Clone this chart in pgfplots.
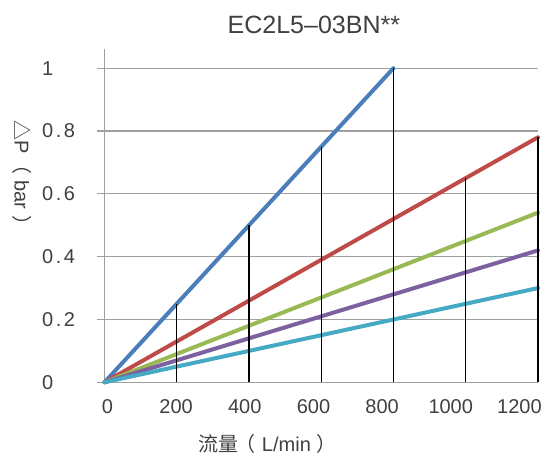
\documentclass[border=0pt]{standalone}
\usepackage{pgfplots}
\pgfplotsset{compat=1.18}
\usetikzlibrary{calc}
\usepackage{fontspec}
\setmainfont{Liberation Sans}
\newfontfamily\cjk{Noto Sans CJK SC}
\definecolor{tg}{HTML}{404040}
\definecolor{gridc}{HTML}{A0A0A0}
\definecolor{c1}{HTML}{4A7EBB}
\definecolor{c2}{HTML}{BE4B48}
\definecolor{c3}{HTML}{98B954}
\definecolor{c4}{HTML}{7D60A0}
\definecolor{c5}{HTML}{46AAC5}
\newcommand{\dt}{\kern2.5pt.\kern2.5pt}
\begin{document}
\begin{tikzpicture}
\begin{axis}[name=ax, scale only axis, width=433.5pt, height=333.3pt,
  xmin=0, xmax=1200, ymin=0, ymax=1.061, clip=false,
  axis lines=left, axis line style={-, draw=gridc, line width=1.3pt},
  xtick={0,200,400,600,800,1000,1200}, ytick={0,0.2,0.4,0.6,0.8,1},
  yticklabels={0,0\dt2,0\dt4,0\dt6,0\dt8,1},
  x tick style={draw=none}, y tick style={draw=gridc, line width=1.3pt},
  tick align=outside, major tick length=7.5pt,
  ymajorgrids, grid style={draw=gridc, line width=1.3pt},
  /pgf/number format/assume math mode=true,
  /pgf/number format/1000 sep={},
  ticklabel style={font=\fontsize{20}{24}\selectfont, text=tg, inner sep=0pt},
  yticklabel style={anchor=west, xshift=-55pt},
  xticklabel style={anchor=north, yshift=-9.5pt, xshift={(3-3.6*\ticknum)*1pt}},
  every axis x label/.style={at={(axis description cs:0.377,0)}, anchor=base, yshift=-68.7pt, font=\fontsize{20}{24}\selectfont, text=tg},
  every axis y label/.style={at={(axis description cs:-0.190,0.613)}, anchor=center, rotate=-90, font=\fontsize{20}{24}\selectfont, text=tg},
  every axis title/.style={at={(axis description cs:0.483,1)}, anchor=base, yshift=15pt, font=\fontsize{25}{30}\selectfont, text=tg},
  title={EC2L5\textendash03BN**},
  xlabel={{\cjk 流量\hspace{-0.15em}（}\hspace{0.3em}L/min\hspace{0.3em}{\cjk ）}},
  ylabel={{\cjk △}P\hspace{0.05em}{\cjk （}\hspace{0.3em}bar\hspace{0.3em}{\cjk ）}},
]
\addplot[c1, line width=4pt, line cap=round] coordinates {(0,0) (800,1)};
\addplot[c2, line width=4pt, line cap=round] coordinates {(0,0) (1200,0.78)};
\addplot[c3, line width=4pt, line cap=round] coordinates {(0,0) (1200,0.54)};
\addplot[c4, line width=4pt, line cap=round] coordinates {(0,0) (1200,0.42)};
\addplot[c5, line width=4pt, line cap=round] coordinates {(0,0) (1200,0.30)};
\addplot[black, line width=1.3pt, ycomb, mark=none] coordinates {(200,0.25) (400,0.5) (600,0.75) (800,1) (1000,0.65) (1200,0.78)};
\end{axis}
\pgfresetboundingbox
\path[use as bounding box] ($(ax.south west)+(-104.5pt,-72.7pt)$) rectangle ++(548pt,455pt);
\end{tikzpicture}
\end{document}
